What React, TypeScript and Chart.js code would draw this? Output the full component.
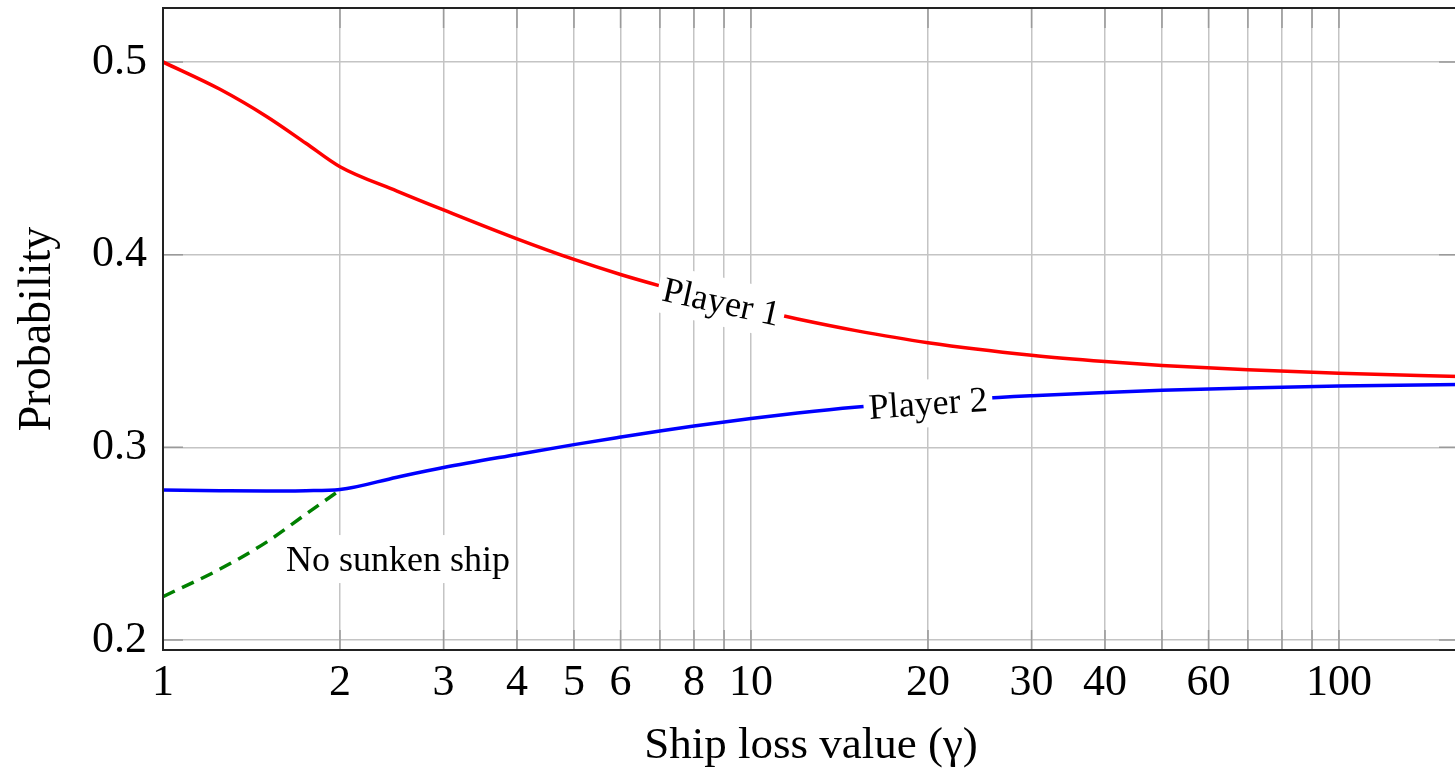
import React, { useEffect, useRef } from "react";
import { Chart, registerables } from "chart.js";

Chart.register(...registerables);

// ---- data ----
const gammaValues = [1, 1.25, 1.5, 1.75, 2, 2.5, 3, 4, 5, 6, 7, 8, 10, 12, 15, 20, 30, 40, 50, 70, 100, 160];
const player1Values = [0.5, 0.4858, 0.4717, 0.4578, 0.4456, 0.433, 0.4232, 0.4082, 0.3975, 0.3897, 0.3838, 0.379, 0.372, 0.3666, 0.3607, 0.3543, 0.3478, 0.3445, 0.3425, 0.3402, 0.3384, 0.3367];
const player2Values = [0.2779, 0.2775, 0.2773, 0.2775, 0.2781, 0.2845, 0.2895, 0.2963, 0.3014, 0.3053, 0.3085, 0.3111, 0.315, 0.3178, 0.3208, 0.3238, 0.3268, 0.3285, 0.3296, 0.3308, 0.3318, 0.3326];
const noSunkenGamma = [1, 1.25, 1.5, 1.75, 2];
const noSunkenValues = [0.2225, 0.2368, 0.2508, 0.2653, 0.2778];

const xGridValues = [1, 2, 3, 4, 5, 6, 7, 8, 9, 10, 20, 30, 40, 50, 60, 70, 80, 90, 100];
const xTickLabels = [1, 2, 3, 4, 5, 6, 8, 10, 20, 30, 40, 60, 100];
const yTickValues = [0.2, 0.3, 0.4, 0.5];

const xMin = 1;
const xMax = 160;
const yMin = 0.1948;
const yMax = 0.528;

const curveLabels = [
  { text: "Player 1", x: 8.9, y: 0.3755, angle: 12.5 },
  { text: "Player 2", x: 20, y: 0.3228, angle: -4 },
  { text: "No sunken ship", x: 2.51, y: 0.242, angle: 0 },
];

const SERIF = '"Liberation Serif", "Times New Roman", serif';

const decorPlugin = {
  id: "decor",
  beforeDatasetsDraw(chart: any) {
    const { ctx, chartArea, scales } = chart;
    const xs = scales.x;
    const ys = scales.y;
    const tl = 20;
    ctx.save();
    ctx.strokeStyle = "#9a9a9a";
    ctx.lineWidth = 1.5;
    ctx.beginPath();
    for (const v of xGridValues) {
      const px = xs.getPixelForValue(v);
      ctx.moveTo(px, chartArea.bottom);
      ctx.lineTo(px, chartArea.bottom - tl);
      ctx.moveTo(px, chartArea.top);
      ctx.lineTo(px, chartArea.top + tl);
    }
    for (const v of yTickValues) {
      const py = ys.getPixelForValue(v);
      ctx.moveTo(chartArea.left, py);
      ctx.lineTo(chartArea.left + tl, py);
      ctx.moveTo(chartArea.right, py);
      ctx.lineTo(chartArea.right - tl, py);
    }
    ctx.stroke();
    ctx.restore();
  },
  afterDatasetsDraw(chart: any) {
    const { ctx, chartArea, scales } = chart;
    const xs = scales.x;
    const ys = scales.y;
    ctx.save();
    ctx.font = `36px ${SERIF}`;
    ctx.textAlign = "center";
    ctx.textBaseline = "middle";
    for (const lab of curveLabels) {
      const px = xs.getPixelForValue(lab.x);
      const py = ys.getPixelForValue(lab.y);
      ctx.save();
      ctx.translate(px, py);
      ctx.rotate((lab.angle * Math.PI) / 180);
      const w = ctx.measureText(lab.text).width;
      ctx.fillStyle = "#ffffff";
      ctx.fillRect(-w / 2 - 5, -24, w + 10, 48);
      ctx.fillStyle = "#000000";
      ctx.fillText(lab.text, 0, 2);
      ctx.restore();
    }
    // frame
    ctx.strokeStyle = "#222222";
    ctx.lineWidth = 2;
    ctx.strokeRect(chartArea.left, chartArea.top, chartArea.right - chartArea.left, chartArea.bottom - chartArea.top);
    ctx.restore();
  },
};

export default function App() {
  const canvasRef = useRef<HTMLCanvasElement | null>(null);

  useEffect(() => {
    if (!canvasRef.current) return;
    const toPoints = (xs: number[], ys: number[]) => xs.map((x, i) => ({ x, y: ys[i] }));
    const chart = new Chart(canvasRef.current, {
      type: "line",
      data: {
        datasets: [
          {
            label: "Player 2",
            data: toPoints(gammaValues, player2Values),
            borderColor: "#0000ff",
            borderWidth: 3.5,
            pointRadius: 0,
            cubicInterpolationMode: "monotone",
            fill: false,
          },
          {
            label: "Player 1",
            data: toPoints(gammaValues, player1Values),
            borderColor: "#ff0000",
            borderWidth: 3.5,
            pointRadius: 0,
            cubicInterpolationMode: "monotone",
            fill: false,
          },
          {
            label: "No sunken ship",
            data: toPoints(noSunkenGamma, noSunkenValues),
            borderColor: "#008000",
            borderWidth: 3.5,
            borderDash: [13, 8],
            pointRadius: 0,
            cubicInterpolationMode: "monotone",
            fill: false,
          },
        ],
      },
      options: {
        animation: false,
        responsive: false,
        devicePixelRatio: 1,
        layout: { padding: { top: 8, right: 16, left: 0, bottom: 0 } },
        plugins: {
          legend: { display: false },
          tooltip: { enabled: false },
        },
        scales: {
          x: {
            type: "logarithmic",
            min: xMin,
            max: xMax,
            afterFit: (scale: any) => {
              scale.height = 124;
              scale.paddingLeft = 0;
              scale.paddingRight = 0;
            },
            afterBuildTicks: (scale: any) => {
              scale.ticks = xGridValues.map((v) => ({ value: v }));
            },
            grid: { color: "#c4c4c4", lineWidth: 1.5, drawTicks: false },
            border: { display: true, color: "#222222", width: 2 },
            ticks: {
              autoSkip: false,
              maxRotation: 0,
              minRotation: 0,
              padding: 7,
              color: "#000000",
              font: { family: SERIF, size: 44 },
              callback: (value: any) => (xTickLabels.includes(Number(value)) ? String(value) : ""),
            },
            title: {
              display: true,
              text: "Ship loss value (γ)",
              color: "#000000",
              font: { family: SERIF, size: 45 },
              padding: { top: 0, bottom: 1 },
            },
          },
          y: {
            type: "linear",
            min: yMin,
            max: yMax,
            afterFit: (scale: any) => {
              scale.width = 163;
              scale.paddingTop = 0;
              scale.paddingBottom = 0;
            },
            afterBuildTicks: (scale: any) => {
              scale.ticks = yTickValues.map((v) => ({ value: v }));
            },
            grid: { color: "#c4c4c4", lineWidth: 1.5, drawTicks: false },
            border: { display: true, color: "#222222", width: 2 },
            ticks: {
              padding: 16,
              color: "#000000",
              font: { family: SERIF, size: 44 },
              callback: (value: any) => Number(value).toFixed(1),
            },
            title: {
              display: true,
              text: "Probability",
              color: "#000000",
              font: { family: SERIF, size: 46 },
              padding: { top: 10, bottom: 0 },
            },
          },
        },
      },
      plugins: [decorPlugin],
    } as any);
    return () => chart.destroy();
  }, []);

  return (
    <div
      style={{
        position: "fixed",
        left: 0,
        top: 0,
        width: 1455,
        height: 774,
        overflow: "hidden",
        background: "#ffffff",
      }}
    >
      <canvas ref={canvasRef} width={1475} height={774} style={{ display: "block" }} />
    </div>
  );
}
